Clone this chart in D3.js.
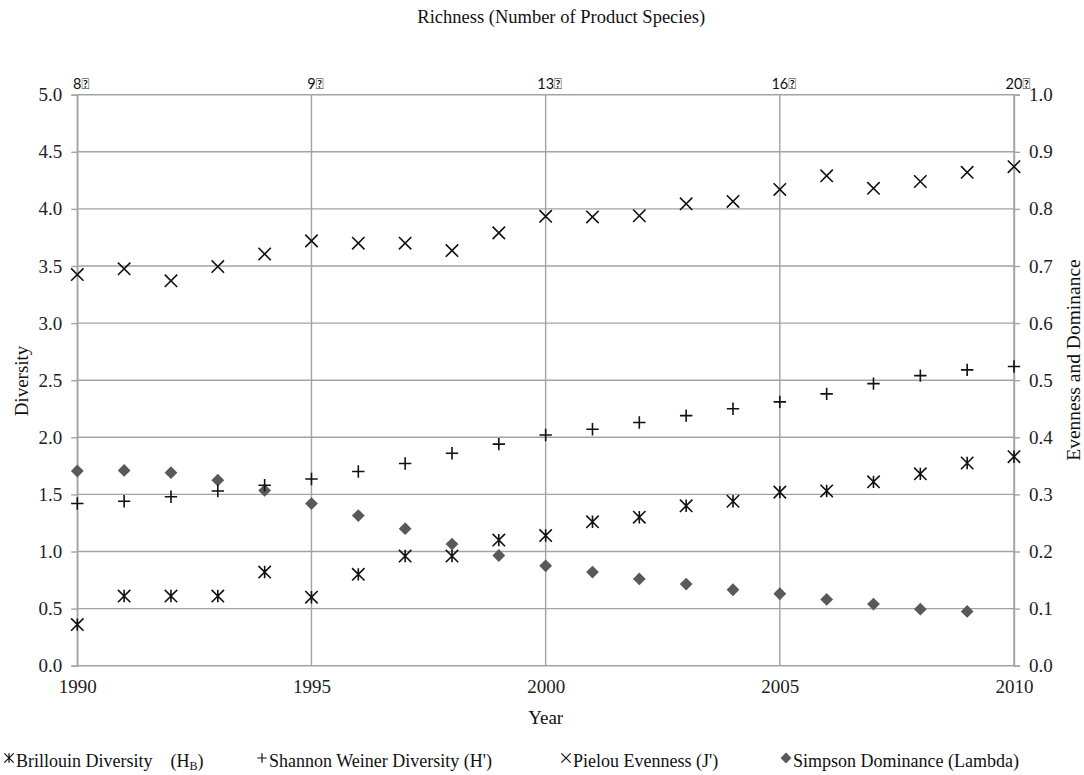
<!DOCTYPE html>
<html><head><meta charset="utf-8">
<script src="https://cdn.jsdelivr.net/npm/d3@7"></script>
<style>body{margin:0;background:#fff}svg{display:block}</style>
</head><body>
<svg id="c" width="1084" height="775"></svg>
<script>
const years = d3.range(1990, 2011);
const brillouin = [0.36,0.61,0.61,0.61,0.82,0.60,0.80,0.96,0.96,1.10,1.14,1.26,1.30,1.40,1.44,1.52,1.53,1.61,1.68,1.775,1.83];
const shannon = [1.42,1.44,1.48,1.53,1.58,1.635,1.70,1.77,1.86,1.94,2.02,2.07,2.13,2.19,2.25,2.31,2.38,2.47,2.54,2.59,2.62];
const pielou = [0.685,0.695,0.674,0.699,0.721,0.744,0.74,0.74,0.727,0.758,0.787,0.786,0.788,0.809,0.813,0.834,0.858,0.836,0.848,0.864,0.874];
const simpson = [0.341,0.342,0.338,0.325,0.307,0.284,0.263,0.240,0.213,0.193,0.175,0.164,0.152,0.143,0.133,0.126,0.116,0.108,0.099,0.095,null];
const xTicks = [1990,1995,2000,2005,2010];
const leftTicks = [0,0.5,1,1.5,2,2.5,3,3.5,4,4.5,5];
const rightTicks = [0,0.1,0.2,0.3,0.4,0.5,0.6,0.7,0.8,0.9,1.0];
const richnessNumbers = ["8","9","13","16","20"];
const richnessSuffix = "\uE000";
const seriesNames = ["Brillouin Diversity\u00A0\u00A0\u00A0 (H", "Shannon Weiner Diversity (H')", "Pielou Evenness (J')", "Simpson Dominance (Lambda)"];

const SERIF = '"Liberation Serif"';
const SANS = '"Lato"';
const svg = d3.select("#c");
const L = 77.3, R = 1014, T = 94.7, B = 665.7;
const x = d3.scaleLinear().domain([1990, 2010]).range([L, R]);
const yL = d3.scaleLinear().domain([0, 5]).range([B, T]);
const yR = d3.scaleLinear().domain([0, 1]).range([B, T]);
const grid = "#a3a3a3";

svg.append("g").selectAll("line").data(leftTicks).join("line")
  .attr("x1", L).attr("x2", R).attr("y1", d => yL(d)).attr("y2", d => yL(d))
  .attr("stroke", grid).attr("stroke-width", 1.4);
svg.append("g").selectAll("line").data(xTicks).join("line")
  .attr("x1", d => x(d)).attr("x2", d => x(d)).attr("y1", T).attr("y2", B)
  .attr("stroke", grid).attr("stroke-width", 1.4);

const gl = svg.append("g").attr("transform", `translate(${L},0)`)
  .call(d3.axisLeft(yL).tickValues(leftTicks).tickFormat(d3.format(".1f")).tickSize(6).tickPadding(9));
const gr = svg.append("g").attr("transform", `translate(${R},0)`)
  .call(d3.axisRight(yR).tickValues(rightTicks).tickFormat(d3.format(".1f")).tickSize(6).tickPadding(9));
const gb = svg.append("g").attr("transform", `translate(0,${B})`)
  .call(d3.axisBottom(x).tickValues(xTicks).tickFormat(d3.format("d")).tickSize(0).tickPadding(14));
[gl, gr, gb].forEach(g => {
  g.attr("font-family", null).attr("font-size", null);
  g.selectAll(".domain").attr("stroke", grid).attr("stroke-width", 1.4);
  g.selectAll(".tick line").attr("stroke", grid).attr("stroke-width", 1.4);
  g.selectAll("text").style("font-family", SERIF).style("font-size", "19px").attr("fill", "#222");
});
gb.select(".domain").remove();

// top richness labels: number centred on the gridline, suffix glyph after it
svg.append("g").selectAll("text").data(xTicks).join("text")
  .attr("y", 88.5)
  .style("font-family", SANS).style("font-size", "14.5px").attr("fill", "#111")
  .each(function(d, i) {
    const t = d3.select(this);
    const num = t.append("tspan").text(richnessNumbers[i]);
    t.append("tspan").text(richnessSuffix);
    const w = num.node().getComputedTextLength();
    t.attr("x", x(d) - w / 2);
  });

svg.append("text").attr("x", 554).attr("y", 22.5).attr("text-anchor", "middle")
  .style("font-family", SERIF).style("font-size", "18.5px").attr("fill", "#111")
  .text("\uE000Richness (Number of Product Species)");
svg.append("text").attr("x", (L + R) / 2).attr("y", 724).attr("text-anchor", "middle")
  .style("font-family", SERIF).style("font-size", "19px").attr("fill", "#111").text("Year");
svg.append("text").attr("transform", "translate(28,381) rotate(-90)").attr("text-anchor", "middle")
  .style("font-family", SERIF).style("font-size", "19px").attr("fill", "#111").text("Diversity");
svg.append("text").attr("transform", "translate(1080,360) rotate(-90)").attr("text-anchor", "middle")
  .style("font-family", SERIF).style("font-size", "19.5px").attr("fill", "#111").text("Evenness and Dominance");

const s = 6.2;
function asterisk(g) {
  g.append("path").attr("d", `M${-s},${-s}L${s},${s}M${-s},${s}L${s},${-s}M0,${-s}L0,${s}`)
    .attr("stroke", "#111").attr("stroke-width", 1.6).attr("fill", "none");
}
function plus(g) {
  g.append("path").attr("d", `M${-s},0L${s},0M0,${-s}L0,${s}`)
    .attr("stroke", "#111").attr("stroke-width", 1.6).attr("fill", "none");
}
function cross(g) {
  g.append("path").attr("d", `M${-s},${-s}L${s},${s}M${-s},${s}L${s},${-s}`)
    .attr("stroke", "#111").attr("stroke-width", 1.6).attr("fill", "none");
}
function diamond(g) {
  const d = 6.4;
  g.append("path").attr("d", `M0,${-d}L${d},0L0,${d}L${-d},0Z`).attr("fill", "#595959");
}

function plot(vals, scale, drawer) {
  const pts = years.map((yr, i) => ({yr, v: vals[i]})).filter(p => p.v !== null);
  svg.append("g").selectAll("g").data(pts).join("g")
    .attr("transform", p => `translate(${x(p.yr)},${scale(p.v)})`)
    .each(function() { drawer(d3.select(this)); });
}
plot(simpson, yR, diamond);
plot(pielou, yR, cross);
plot(shannon, yL, plus);
plot(brillouin, yL, asterisk);

const legendX = [9, 262, 566, 786];
const drawers = [asterisk, plus, cross, diamond];
legendX.forEach((lx, i) => {
  const m = svg.append("g").attr("transform", `translate(${lx},758) scale(${i === 3 ? 0.85 : 0.75})`);
  drawers[i](m);
  const t = svg.append("text").attr("x", lx + 7).attr("y", 767)
    .style("font-family", SERIF).style("font-size", "18px").attr("fill", "#111")
    .text(seriesNames[i]);
  if (i === 0) {
    t.append("tspan").style("font-size", "12px").attr("dy", 3).text("B");
    t.append("tspan").attr("dy", -3).text(")");
  }
});
</script>
</body></html>
